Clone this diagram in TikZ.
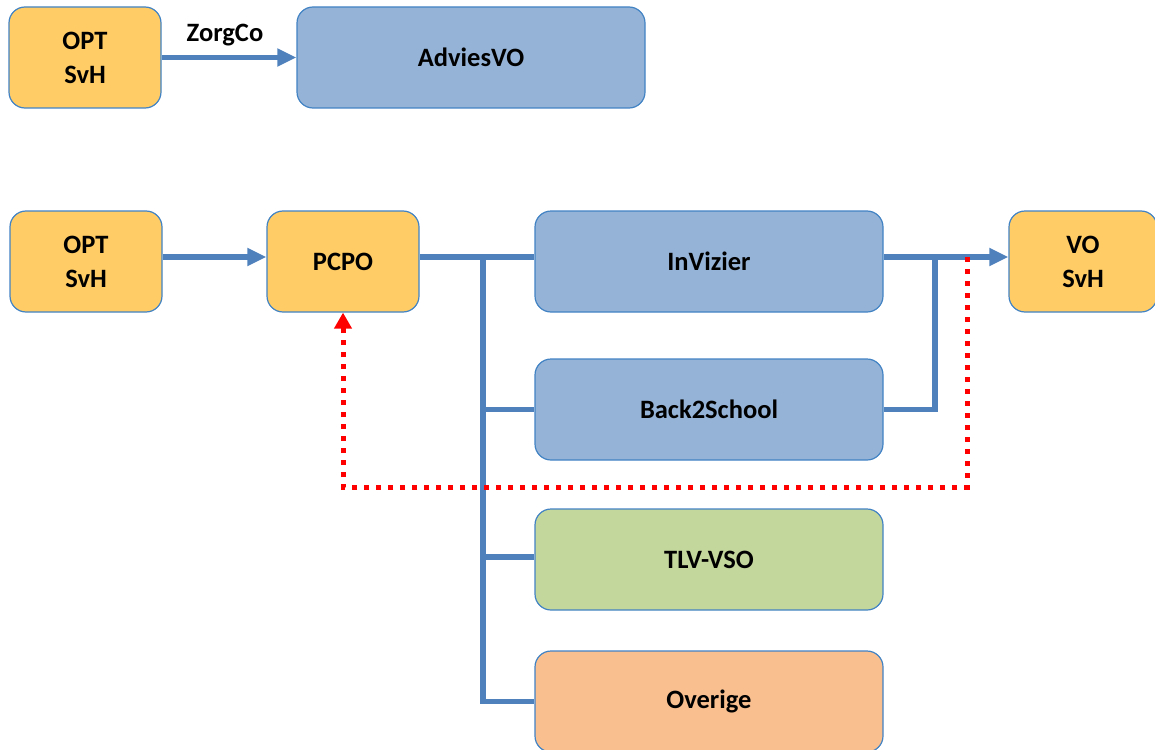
\documentclass[tikz,border=0pt]{standalone}
\usepackage{fontspec}
\setmainfont{Carlito}
\usetikzlibrary{arrows.meta}
\definecolor{orangefill}{HTML}{FFCC66}
\definecolor{bluefill}{HTML}{95B3D7}
\definecolor{greenfill}{HTML}{C3D69B}
\definecolor{salmonfill}{HTML}{F9BF8F}
\definecolor{boxborder}{HTML}{4283C4}
\definecolor{connblue}{HTML}{4F81BD}
\definecolor{dotred}{HTML}{FF0000}
\tikzset{
  box/.style={draw=boxborder, line width=1.2pt, rounded corners=16pt, align=center,
    inner sep=0pt, minimum height=101pt, font=\fontsize{26.5}{34}\selectfont\bfseries},
  smallbox/.style={box, minimum width=152pt},
  widebox/.style={box, minimum width=348pt},
  conn/.style={draw=connblue, line width=5.5pt},
  bluearrow/.style={-{Triangle[length=19pt,width=17pt]}},
  reddots/.style={draw=dotred, line width=5pt, dash pattern=on 5pt off 7pt,
    -{Triangle[length=16pt,width=17pt]}},
  lbl/.style={font=\fontsize{26.5}{34}\selectfont\bfseries, inner sep=0pt}
}
\begin{document}
\begin{tikzpicture}[x=1pt,y=-1pt]
\useasboundingbox (0,0) rectangle (1155,749);
% top row
\node[smallbox, fill=orangefill] (opt1) at (85,57.5) {OPT\\SvH};
\node[widebox, fill=bluefill] (advies) at (471,57.5) {AdviesVO};
\draw[conn, bluearrow] (opt1.east) -- (advies.west);
\node[lbl] (zorg) at (225,35) {ZorgCo};
% lower rows
\node[smallbox, fill=orangefill] (opt2) at (86,261.5) {OPT\\SvH};
\node[smallbox, fill=orangefill] (pcpo) at (343,261.5) {PCPO};
\node[widebox, fill=bluefill] (inv) at (709,261.5) {InVizier};
\node[box, minimum width=148pt, fill=orangefill] (vo) at (1083,261.5) {VO\\SvH};
\node[widebox, fill=bluefill] (b2s) at (709,409.5) {Back2School};
\node[widebox, fill=greenfill] (tlv) at (709,559.5) {TLV-VSO};
\node[widebox, fill=salmonfill] (ov) at (709,701.5) {Overige};
% connectors
\draw[conn, bluearrow] ([yshift=4.5pt]opt2.east) -- ([yshift=4.5pt]pcpo.west);
\draw[conn] ([yshift=4.5pt]pcpo.east) -- ([yshift=4.5pt]inv.west);
\coordinate (bustop) at (483,260);
\draw[conn] (bustop) |- (ov.west);
\draw[conn] (b2s.west) -- (b2s.west -| bustop);
\draw[conn] ([yshift=2.5pt]tlv.west) -- ([yshift=2.5pt]tlv.west -| bustop);
\draw[conn, bluearrow] ([yshift=4.5pt]inv.east) -- ([yshift=4.5pt]vo.west);
\coordinate (join) at (935,257);
\draw[conn] (b2s.east) -| (join);
% red feedback
\coordinate (rstart) at (967,257);
\coordinate (rcorner) at (967,487);
\draw[reddots] (rstart) -- (rcorner) -- (rcorner -| pcpo.south) -- (pcpo.south);
\end{tikzpicture}
\end{document}
